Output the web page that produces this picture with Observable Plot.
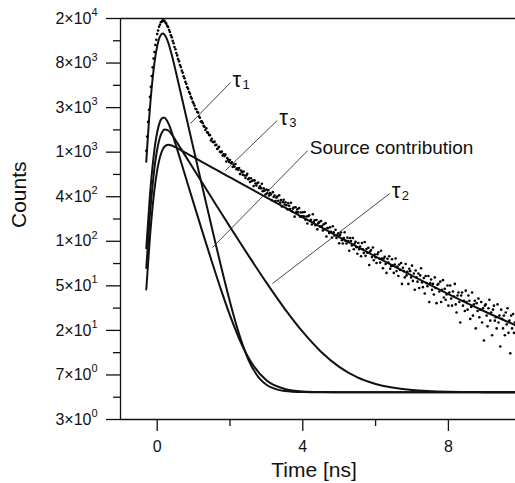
<!DOCTYPE html>
<html><head><meta charset="utf-8">
<script src="https://cdn.jsdelivr.net/npm/d3@7"></script>
<script src="https://cdn.jsdelivr.net/npm/@observablehq/plot@0.6"></script>
<style>html,body{margin:0;padding:0;background:#fff}svg{display:block}</style>
</head><body><div id="chart"></div>
<script>
// ---- data: positron lifetime spectrum (counts per channel) ----
const firstChannel = -0.3;      // ns, time of first channel
const channelWidth = 0.025;     // ns per channel
const counts = [
1131,1561,2163,2840,3791,4752,6050,7361,8990,10395,12170,13680,15560,16810,18330,19120,20270,20510,21120,20840,
20910,20080,19620,18660,18240,17010,16280,15110,14460,13320,12650,11630,11040,10150,9620,8850,8420,7760,7410,6840,
6530,6020,5760,5310,5080,4710,4540,4230,4080,3790,3650,3400,3275,
3117,2904,2876,2699,2666,2441,2372,2177,2191,2112,1978,1936,1804,1877,1709,1689,1612,1607,1424,1480,
1379,1375,1388,1283,1297,1177,1207,1239,1106,1092,1113,1015,1046,1004,1037,888,959,926,879,919,
858,874,787,829,790,841,748,765,740,767,670,727,704,662,710,649,614,651,674,598,
609,561,610,575,580,512,582,543,519,545,555,491,511,487,540,457,487,463,424,473,
436,466,414,437,424,373,447,401,415,366,395,405,368,416,353,375,324,357,377,339,
356,333,304,349,329,306,352,291,308,316,258,319,287,305,284,313,257,283,260,285,
260,286,241,259,221,261,266,235,241,216,272,229,238,213,239,194,223,228,206,234,
209,189,217,195,223,165,200,200,179,203,184,161,208,182,169,192,160,171,178,142,
171,181,152,141,160,182,150,141,161,149,120,160,149,135,160,124,141,147,130,112,
143,124,132,106,143,124,114,146,107,125,115,128,87,118,122,104,129,97,110,103,
91,111,116,101,92,120,101,81,101,105,89,73,100,92,106,80,85,99,86,73,
88,101,76,84,68,88,78,91,57,82,76,66,89,69,75,57,80,76,66,86,
61,72,50,77,66,60,72,52,69,81,59,53,65,46,68,58,54,68,38,58,
63,50,57,45,66,52,37,56,57,48,60,38,50,62,42,51,40,45,55,35,
47,55,41,35,48,43,57,36,30,44,47,38,24,44,47,35,39,31,49,38,
32,44,39,26,34,47,28,36,39,21,37,31,41,27,32,38,24,33,16,35,
36,28,22,33,40,25,30,18,32,35,25,27,21,36,24,28,14,32,26,21,
28,18,30,23,33,19,25,12,28,21,29,19,24
];

// fitted components (each includes the constant background)
const curveTimes = [-0.3,-0.2,-0.1,0,0.05,0.1,0.15,0.2,0.3,0.4,0.5,0.6,0.8,1.0,1.25,1.5,1.75,2.0,2.25,2.5,3.0,3.5,4.0,4.5,5,5.5,6,7,8,9,10];
const tau1Fit   = [884,2929,6910,11854,13889,15229,15705,15350,12922,9739,6965,4896,2401,1178,486,202,85.5,38.0,18.5,10.5,5.93,5.16,5.03,5.0,5,5,5,5,5,5,5];
const sourceFit = [126.8,413.7,983,1715.5,2035,2266,2380,2380,2119,1715,1331,1020,596.6,349.4,180.3,94.2,50.4,28.1,16.75,10.98,6.55,5.40,5.10,5.03,5.01,5,5,5,5,5,5];
const tau2Fit   = [81.4,266,645,1164,1413,1616,1755,1824,1790,1631,1443,1268,976,751,542,391.5,283,205,149.1,108.7,58.7,32.8,19.4,12.46,8.86,7.0,6.04,5.28,5.07,5.02,5.0];
const tau3Fit   = [50.3,161.3,394.8,727.8,897.2,1045.6,1161,1238.8,1296,1274.9,1226.2,1173,1071.7,979.2,874.5,781,697.7,623.3,556.9,497.6,397.4,317.6,254.1,203.4,163.1,131,105.4,68.7,45.4,30.7,21.3];

// axis ticks: y ticks at e^1 ... e^10, labelled in rounded scientific notation
const yTickLn = [1,2,3,4,5,6,7,8,9,10];
const yTickMantissa = ["3","7","2","5","1","4","1","3","8","2"];
const yTickExponent = ["0","0","1","1","2","2","3","3","3","4"];
const yMinorLn = [1.5,2.5,3.5,4.5,5.5,6.5,7.5,8.5,9.5];
const xTicks = [0,4,8];
const xMinorTicks = [2,6];

// annotation pointers (time, counts)
const annotations = [
  {label:"τ", sub:"1", t1:0.915, c1:2086, t2:2.014, c2:5233},
  {label:"τ", sub:"3", t1:1.876, c1:726,  t2:3.297, c2:2231},
  {label:"Source contribution", sub:"", t1:1.519, c1:129, t2:4.135, c2:1138},
  {label:"τ", sub:"2", t1:3.168, c1:57.5, t2:6.387, c2:433}
];

// ---- build ----
const points = counts.map((c, i) => ({t: firstChannel + i * channelWidth, c}));
const fits = [tau1Fit, sourceFit, tau2Fit, tau3Fit];
const xDomain = [-1.008, 9.843];
const tauNotes = annotations.filter(d => d.sub !== "");
const plainNotes = annotations.filter(d => d.sub === "");
const ink = "#111";

const chart = Plot.plot({
  width: 515, height: 483,
  marginLeft: 120, marginRight: 0, marginTop: 18, marginBottom: 64,
  style: {fontFamily: "'Liberation Sans', Arial, sans-serif", background: "white", color: ink},
  x: {domain: xDomain, axis: null},
  y: {type: "log", domain: [Math.exp(1), Math.exp(10)], axis: null},
  marks: [
    // frame lines
    Plot.ruleX([xDomain[0]], {stroke: ink, strokeWidth: 1.3}),
    Plot.ruleY([Math.exp(1), Math.exp(10)], {stroke: ink, strokeWidth: 1.3}),
    // ticks
    Plot.axisY(yTickLn.map(k => Math.exp(k)), {anchor: "left", tickSize: 14, tickFormat: () => "", label: null, stroke: ink, strokeWidth: 1.3}),
    Plot.axisY(yMinorLn.map(k => Math.exp(k)), {anchor: "left", tickSize: 7, tickFormat: () => "", label: null, stroke: ink, strokeWidth: 1.3}),
    Plot.axisX(xTicks, {anchor: "bottom", tickSize: 12, tickPadding: 9, fontSize: 16, label: null, tickFormat: d => String(d), stroke: ink, strokeWidth: 1.3, fill: ink}),
    Plot.axisX(xMinorTicks, {anchor: "bottom", tickSize: 7, tickFormat: () => "", label: null, stroke: ink, strokeWidth: 1.3}),
    // y tick labels with superscript exponent
    Plot.text(yTickLn, {frameAnchor: "left", y: k => Math.exp(k), text: (k, i) => yTickMantissa[i] + "×10", textAnchor: "end", lineAnchor: "middle", dx: -29, fontSize: 16, fill: ink}),
    Plot.text(yTickLn, {frameAnchor: "left", y: k => Math.exp(k), text: (k, i) => yTickExponent[i], textAnchor: "start", lineAnchor: "middle", dx: -29, dy: -6, fontSize: 11, fill: ink}),
    // axis titles
    Plot.text(["Time [ns]"], {frameAnchor: "bottom", text: d => d, dy: 51, dx: -4, lineAnchor: "middle", fontSize: 21, fill: ink}),
    Plot.text(["Counts"], {frameAnchor: "left", text: d => d, dx: -101.7, dy: 9, rotate: -90, lineAnchor: "middle", fontSize: 21, fill: ink}),
    // fitted components
    ...fits.map(f => Plot.line(curveTimes, {x: t => t, y: (t, i) => f[i], curve: "monotone-x", stroke: ink, strokeWidth: 2, clip: true})),
    // measured spectrum
    Plot.dot(points, {x: "t", y: "c", r: 1.3, fill: "#000", stroke: null, clip: true}),
    // annotation pointers and labels
    Plot.link(annotations, {x1: "t1", y1: "c1", x2: "t2", y2: "c2", stroke: "#333", strokeWidth: 0.9}),
    Plot.text(tauNotes, {x: "t2", y: "c2", text: "label", textAnchor: "start", lineAnchor: "bottom", dx: 2, dy: 4, fontSize: 22, fill: ink}),
    Plot.text(tauNotes, {x: "t2", y: "c2", text: "sub", textAnchor: "start", lineAnchor: "bottom", dx: 12, dy: 6, fontSize: 13, fill: ink}),
    Plot.text(plainNotes, {x: "t2", y: "c2", text: "label", textAnchor: "start", lineAnchor: "bottom", dx: 2, dy: 3.5, fontSize: 19, fill: ink})
  ]
});
document.getElementById("chart").appendChild(chart);
</script>
</body></html>
